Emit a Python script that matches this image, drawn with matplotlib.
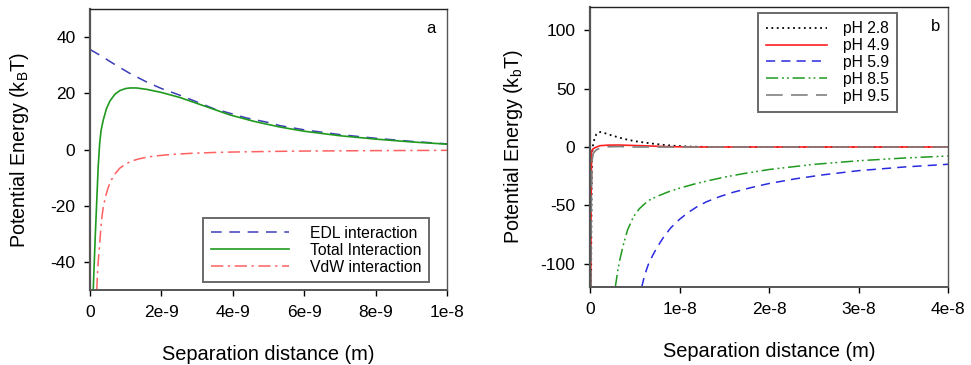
import numpy as np
import matplotlib
matplotlib.use("Agg")
import matplotlib.pyplot as plt

plt.rcParams['font.family'] = ['Liberation Sans', 'DejaVu Sans']
plt.rcParams['axes.unicode_minus'] = False

# --- panel a: distances in nm, energies in kT ---
edl_x = [0, 0.3, 0.65, 1.1, 1.59, 2, 2.52, 3, 3.45, 4, 4.39, 5, 5.32, 6, 7, 8, 9, 10]
edl_y = [35.6, 33.4, 30.6, 27.2, 24.0, 21.7, 19.3, 16.9, 14.6, 12.6, 11.2, 9.6,
         8.5, 7.0, 5.3, 4.0, 2.9, 2.0]

tot_x = [0.09, 0.12, 0.15, 0.19, 0.23, 0.27, 0.31, 0.37, 0.46, 0.56, 0.7, 0.84,
         1.0, 1.12, 1.3, 1.59, 2.0, 2.52, 3.2, 3.92, 4.6, 5.32, 6, 7, 8, 9, 10]
tot_y = [-50, -40, -30, -18, -6, 2, 6.8, 10.4, 14.5, 17.3, 19.7, 21.0,
         21.7, 21.9, 21.9, 21.4, 20.3, 18.5, 15.5, 12.3, 10.0, 8.0, 6.5, 4.9, 3.7, 2.7, 1.9]

vdw_x = [0.19, 0.21, 0.23, 0.28, 0.32, 0.37, 0.44, 0.51, 0.6, 0.70, 0.83, 0.98,
         1.15, 1.35, 1.6, 1.91, 2.3, 2.85, 3.5, 4, 5, 6, 8, 10]
vdw_y = [-50, -44, -40, -32, -25.5, -20.6, -16.5, -13.5, -10.8, -8.7, -6.7, -5.3,
         -4.2, -3.4, -2.7, -2.2, -1.75, -1.35, -1.05, -0.9, -0.7, -0.55, -0.4, -0.3]

# --- panel b ---
ph28_x = [0.12, 0.15, 0.18, 0.22, 0.3, 0.4, 0.55, 0.7, 0.93, 1.2, 1.6, 2.2, 3.2,
          4, 5, 6, 6.9, 8, 9.1, 10.2, 11.4, 13, 15, 40]
ph28_y = [-120, -70, -35, -10, 0, 4.5, 8, 10.8, 12.6, 12.8, 12, 10.5, 8.2,
          6.6, 5.0, 3.9, 3.0, 2.0, 1.2, 0.7, 0.3, 0.1, 0, 0]

ph49_x = [0.08, 0.12, 0.18, 0.3, 0.56, 1.1, 2, 3.2, 5.8, 8.7, 12, 40]
ph49_y = [-120, -50, -4, -1.8, -0.6, 1.1, 1.6, 1.7, 1.1, 0.3, 0, 0]

ph59_x = [5.78, 6.1, 6.5, 7.0, 7.45, 8.2, 9, 10, 11, 12, 13, 14.5, 16, 18, 20,
          23, 26, 30, 35, 40]
ph59_y = [-120, -110, -101, -93, -86.6, -77.5, -69.5, -62, -56, -51, -47, -42.5,
          -38.8, -34.8, -31.3, -27.2, -23.9, -20.3, -17.2, -14.8]

ph85_x = [2.83, 3.1, 3.35, 3.72, 4.2, 4.84, 5.5, 6.5, 7.5, 8.7, 10, 12, 14.9,
          17, 20, 25, 30, 35, 40]
ph85_y = [-120, -106, -96, -84, -71, -60, -53, -46, -42.3, -38.6, -35.3, -31,
          -26, -23, -19.3, -14.9, -11.8, -9.5, -7.7]

ph95_x = [0.1, 0.15, 0.22, 0.37, 0.7, 1.1, 2.0, 3.2, 5, 40]
ph95_y = [-120, -45, -12, -5.4, -2.5, -1.1, 0.2, 0.4, 0, 0]

a_ticks = [0, 2e-9, 4e-9, 6e-9, 8e-9, 1e-8]
a_ticklabels = ['0', '2e-9', '4e-9', '6e-9', '8e-9', '1e-8']
b_ticks = [0, 1e-8, 2e-8, 3e-8, 4e-8]
b_ticklabels = ['0', '1e-8', '2e-8', '3e-8', '4e-8']

nm = 1e-9

fig = plt.figure(figsize=(9.71, 3.65), dpi=100)
ax1 = fig.add_axes([90/971, 1 - 290/365, 357/971, 281/365])
ax2 = fig.add_axes([590/971, 1 - 287/365, 358/971, 280/365])

spine_col = '#555555'
for ax in (ax1, ax2):
    for s in ax.spines.values():
        s.set_color(spine_col)
        s.set_linewidth(1.0)
    ax.spines['top'].set_color('#222222')
    ax.spines['left'].set_linewidth(1.6)
    ax.spines['bottom'].set_linewidth(1.4)
    ax.tick_params(direction='out', length=4.5, width=1, colors='black',
                   labelsize=12.5, pad=6)

# panel a
ax1.plot(np.array(edl_x) * nm, edl_y, color='#3d3db8', lw=1.1, ls=(0, (7, 5)),
         label='EDL interaction')
ax1.plot(np.array(tot_x) * nm, tot_y, color='#1f9a1f', lw=1.2, ls='-',
         label='Total Interaction')
ax1.plot(np.array(vdw_x) * nm, vdw_y, color='#ff6060', lw=1.1, ls=(0, (8, 3, 1.5, 3)),
         label='VdW interaction')
ax1.set_xlim(0, 1e-8)
ax1.set_ylim(-50, 50)
ax1.set_xticks(a_ticks)
ax1.set_xticklabels(a_ticklabels)
ax1.set_yticks([-40, -20, 0, 20, 40])
ax1.set_xlabel('Separation distance (m)', fontsize=14.4, labelpad=18)
ax1.set_ylabel('Potential Energy (k$_\\mathregular{B}$T)', fontsize=14.2, labelpad=14)
ax1.text(0.955, 0.93, 'a', transform=ax1.transAxes, fontsize=12, ha='center', va='center')
leg1 = ax1.legend(loc='lower right', bbox_to_anchor=(0.95, 0.027), fontsize=11.3,
                  handlelength=5.0, handletextpad=1.3, labelspacing=0.12,
                  frameon=True, fancybox=False, borderpad=0.5, borderaxespad=0)
leg1.get_frame().set_edgecolor('#444444')
leg1.get_frame().set_linewidth(1.4)

# panel b
ax2.plot(np.array(ph28_x) * nm, ph28_y, color='black', lw=1.3, ls=(0, (1, 2)), label='pH 2.8')
ax2.plot(np.array(ph49_x) * nm, ph49_y, color='#ff2020', lw=1.2, ls='-', label='pH 4.9')
ax2.plot(np.array(ph59_x) * nm, ph59_y, color='#2a2ae0', lw=1.1, ls=(0, (6, 4)), label='pH 5.9')
ax2.plot(np.array(ph85_x) * nm, ph85_y, color='#1f9a1f', lw=1.1,
         ls=(0, (8, 2.5, 1.2, 2, 1.2, 2.5)), label='pH 8.5')
ax2.plot(np.array(ph95_x) * nm, ph95_y, color='#808080', lw=1.2, ls=(0, (10, 5)), label='pH 9.5')
ax2.set_xlim(0, 4e-8)
ax2.set_ylim(-120, 120)
ax2.set_xticks(b_ticks)
ax2.set_xticklabels(b_ticklabels)
ax2.set_yticks([-100, -50, 0, 50, 100])
ax2.set_xlabel('Separation distance (m)', fontsize=14.4, labelpad=18)
ax2.set_ylabel('Potential Energy (k$_\\mathregular{b}$T)', fontsize=14.2, labelpad=11)
ax2.text(0.965, 0.93, 'b', transform=ax2.transAxes, fontsize=12, ha='center', va='center')
leg2 = ax2.legend(loc='upper right', bbox_to_anchor=(0.857, 0.9775), fontsize=11.3,
                  handlelength=3.9, handletextpad=1.0, labelspacing=0.12,
                  frameon=True, fancybox=False, borderpad=0.5, borderaxespad=0)
leg2.get_frame().set_edgecolor('#444444')
leg2.get_frame().set_linewidth(1.4)

fig.savefig('out.png', dpi=100)
